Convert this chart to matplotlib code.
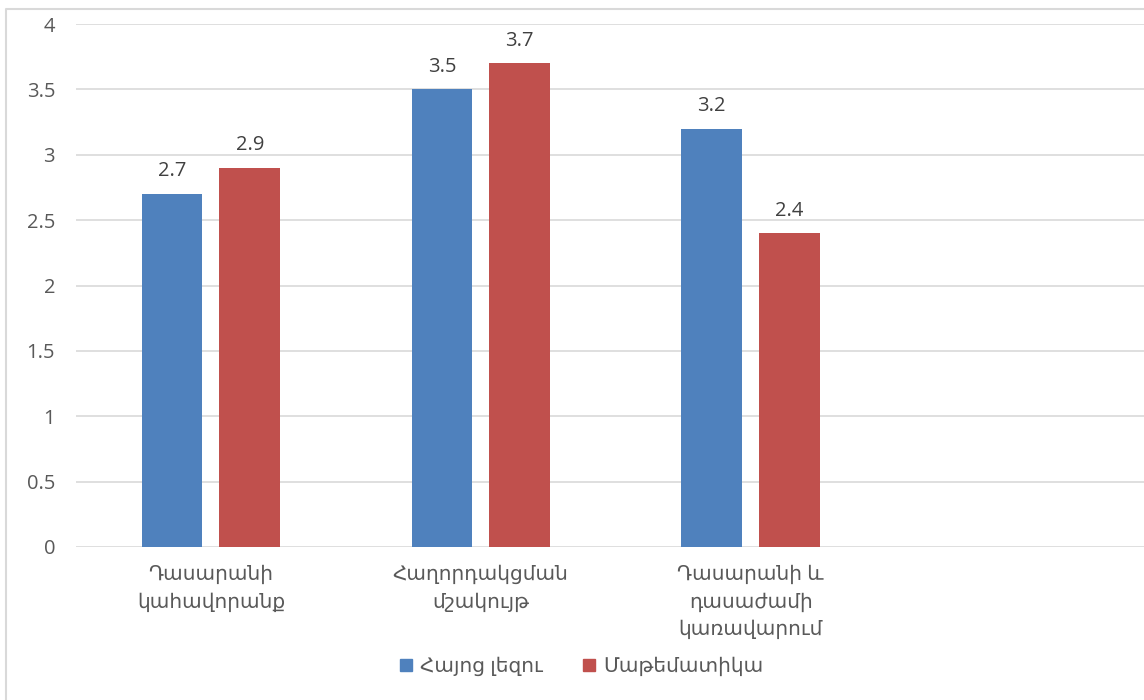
import numpy as np
import matplotlib.pyplot as plt
from matplotlib.lines import Line2D
from matplotlib.patches import Patch

plt.rcParams['font.family'] = ['Open Sans', 'DejaVu Sans']

categories = ['Դասարանի\nկահավորանք', 'Հաղորդակցման\nմշակույթ',
              'Դասարանի և\nդասաժամի\nկառավարում', '']
armenian_lang = [2.7, 3.5, 3.2]
math_scores = [2.9, 3.7, 2.4]
series_names = ['Հայոց լեզու', 'Մաթեմատիկա']
yticks = [0, 0.5, 1, 1.5, 2, 2.5, 3, 3.5, 4]

blue = '#4f81bd'
red = '#c0504d'
text_color = '#595959'
grid_color = '#d9d9d9'

W, H = 1144, 700
fig = plt.figure(figsize=(W / 100, H / 100), dpi=100)
ax = fig.add_axes([76 / W, 153 / H, (1144 - 76) / W + 0.01, 523 / H])

x = np.arange(len(categories))
bw = 0.225
off = 0.144
n = len(armenian_lang)
b1 = ax.bar(x[:n] - off, armenian_lang, bw, color=blue, zorder=3)
b2 = ax.bar(x[:n] + off, math_scores, bw, color=red, zorder=3)

for bars in (b1, b2):
    for r in bars:
        ax.annotate(f'{r.get_height():g}', (r.get_x() + r.get_width() / 2, r.get_height()),
                    xytext=(0, 9), textcoords='offset points', ha='center', va='bottom',
                    fontsize=14.5, color='#404040')

ax.set_xlim(-0.5, len(categories) - 0.5)
ax.set_ylim(0, 4)
ax.set_yticks(yticks)
ax.set_yticklabels([f'{v:g}' for v in yticks])
ax.yaxis.grid(True, color=grid_color, lw=1.2, zorder=0)
ax.set_axisbelow(True)
for s in ax.spines.values():
    s.set_visible(False)
ax.tick_params(axis='y', length=0, pad=15, labelsize=14.5, labelcolor=text_color)
ax.tick_params(axis='x', length=0, pad=13, labelsize=14.5, labelcolor=text_color)
ax.set_xticks(x)
ax.set_xticklabels(categories, linespacing=1.5)

handles = [Patch(color=blue), Patch(color=red)]
fig.legend(handles, series_names, loc='center', bbox_to_anchor=(582 / W, 1 - 667 / H),
           ncol=2, frameon=False, fontsize=14.5, labelcolor=text_color,
           handlelength=0.6, handleheight=0.6, handletextpad=0.4, columnspacing=2.0)

# chart border
fig.add_artist(Line2D([6 / W, 6 / W, 1.0], [0, 1 - 9 / H, 1 - 9 / H],
                      transform=fig.transFigure, color='#d9d9d9', lw=1.5))

fig.savefig('out.png', dpi=100, facecolor='white')
